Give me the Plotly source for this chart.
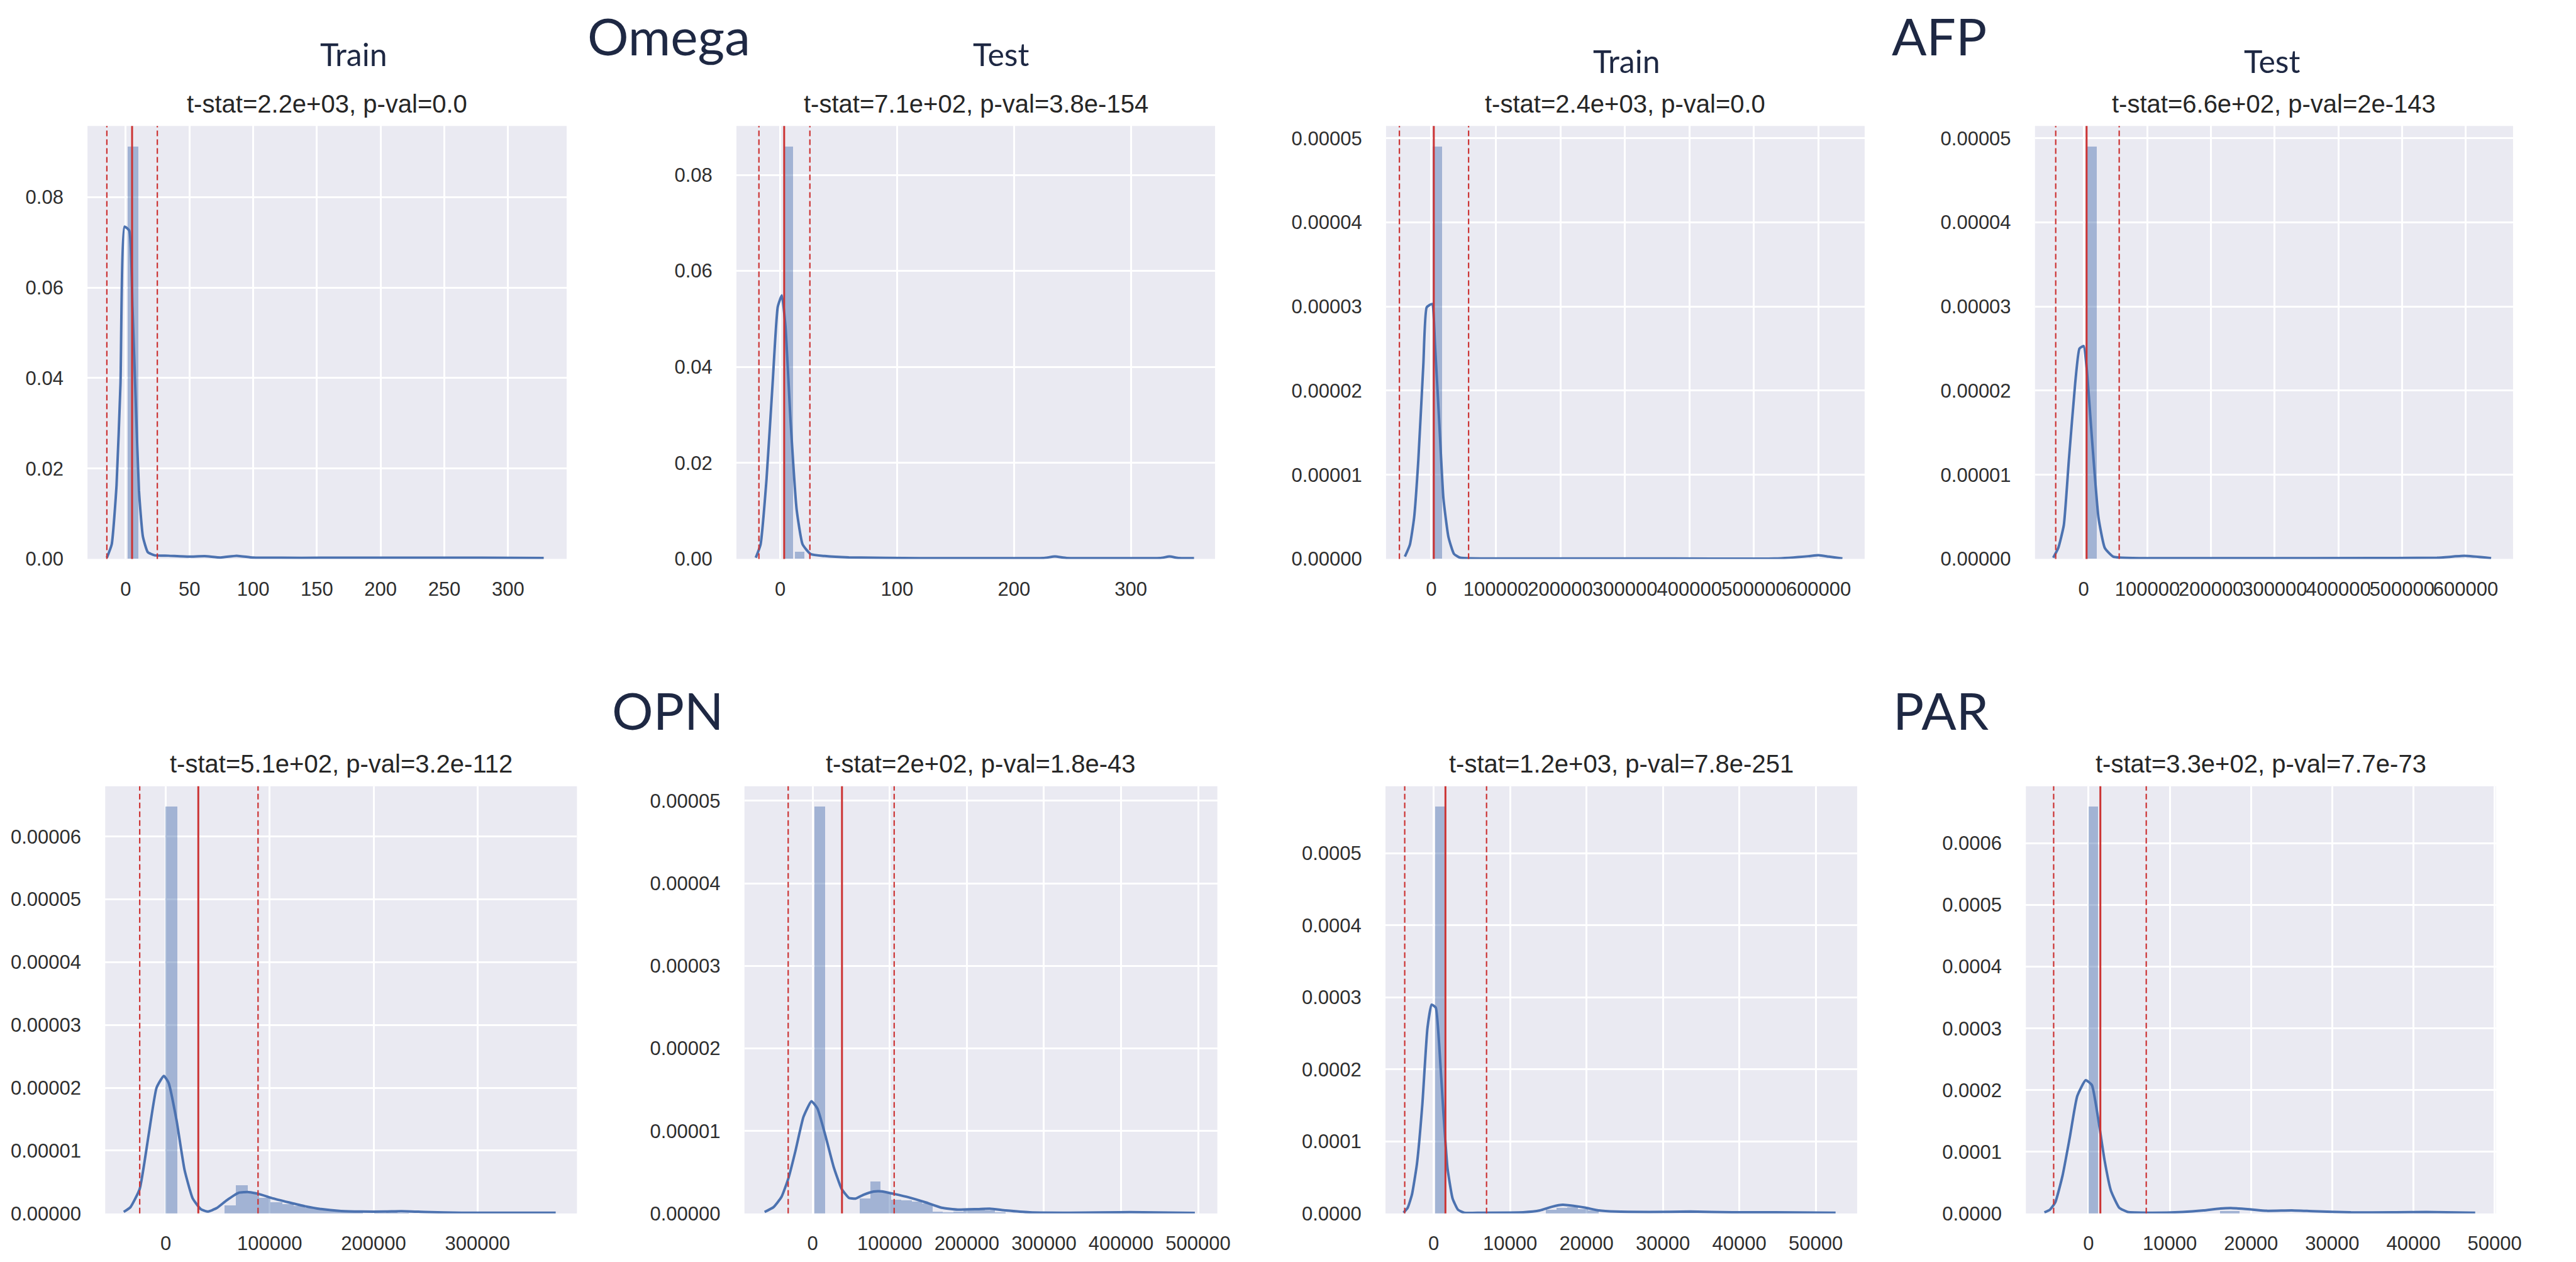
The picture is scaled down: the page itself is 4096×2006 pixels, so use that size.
import plotly.graph_objects as go

REF_W, REF_H = 4460, 2184
FIG_W, FIG_H = 4096, 2006
S = FIG_W / REF_W  # 0.918

# ======================= DATA =======================
panel_names = ["Omega train", "Omega test", "AFP train", "AFP test",
               "OPN train", "OPN test", "PAR train", "PAR test"]
subtitles = ["t-stat=2.2e+03, p-val=0.0", "t-stat=7.1e+02, p-val=3.8e-154",
             "t-stat=2.4e+03, p-val=0.0", "t-stat=6.6e+02, p-val=2e-143",
             "t-stat=5.1e+02, p-val=3.2e-112", "t-stat=2e+02, p-val=1.8e-43",
             "t-stat=1.2e+03, p-val=7.8e-251", "t-stat=3.3e+02, p-val=7.7e-73"]
marker_labels = ["Omega", "AFP", "OPN", "PAR"]
split_labels = ["Train", "Test", "Train", "Test"]

# --- Omega train ---
omega_train_bin_centers = [5.85]
omega_train_bin_heights = [0.0912]
omega_train_bin_width = 8.5
omega_train_kde_x = [-14.8, -11, -7.2, -4.1, -0.9, 2.8, 5.3, 7.9, 10.4, 13.5, 17.3, 22.6, 33.6,
                     49.4, 62, 74.5, 87, 100, 122, 153, 216, 279, 328]
omega_train_kde_y = [0.00025, 0.0032, 0.0163, 0.0388, 0.0735, 0.0726, 0.0557, 0.0345, 0.0151,
                     0.0049, 0.0015, 0.0008, 0.0007, 0.0005, 0.0006, 0.0003, 0.0007, 0.0003,
                     0.00025, 0.00025, 0.00025, 0.00025, 0.0002]
omega_train_mean = 5.0
omega_train_band = [-14.8, 24.8]
omega_train_xticks = [0, 50, 100, 150, 200, 250, 300]
omega_train_yticks = [0.0, 0.02, 0.04, 0.06, 0.08]

# --- Omega test ---
omega_test_bin_centers = [7.0, 16.7]
omega_test_bin_heights = [0.0859, 0.0014]
omega_test_bin_width = 7.8
omega_test_kde_x = [-20.9, -16.8, -11.7, -6.5, -2.1, 1.4, 4.5, 8.9, 14.1, 19.2, 26.1, 38.1, 58.7,
                    120, 189, 225, 235, 245, 292, 325, 333, 341, 354]
omega_test_kde_y = [0.00024, 0.003, 0.0166, 0.0365, 0.0525, 0.0549, 0.0485, 0.0286, 0.0102, 0.003,
                    0.001, 0.0006, 0.0003, 0.00016, 0.00016, 0.00018, 0.0005, 0.00018, 0.00016,
                    0.00018, 0.0005, 0.00018, 0.00016]
omega_test_mean = 3.4
omega_test_band = [-18.2, 25.4]
omega_test_xticks = [0, 100, 200, 300]
omega_test_yticks = [0.0, 0.02, 0.04, 0.06, 0.08]

# --- AFP train ---
afp_train_bin_centers = [9400]
afp_train_bin_heights = [4.9e-5]
afp_train_bin_width = 15000
afp_train_kde_x = [-40900, -33100, -26600, -20100, -12300, -7100, 1300, 5800, 12300, 18800, 26600,
                   35100, 44800, 142000, 337000, 532000, 584000, 600000, 616000, 637000]
afp_train_kde_y = [2.7e-7, 1.7e-6, 4.9e-6, 1.17e-5, 2.31e-5, 2.99e-5, 3.03e-5, 2.54e-5, 1.63e-5,
                   7.2e-6, 2.6e-6, 6e-7, 1.4e-7, 5e-8, 5e-8, 5e-8, 3.2e-7, 4.5e-7, 2.7e-7, 5e-8]
afp_train_mean = 3900
afp_train_band = [-49400, 57800]
afp_train_xticks = [0, 100000, 200000, 300000, 400000, 500000, 600000]
afp_train_yticks = [0.0, 0.00001, 0.00002, 0.00003, 0.00004, 0.00005]

# --- AFP test ---
afp_test_bin_centers = [12300]
afp_test_bin_heights = [4.9e-5]
afp_test_bin_width = 15300
afp_test_kde_x = [-47800, -39900, -31200, -23300, -13300, -6600, 0, 4700, 13300, 23300, 33200,
                  46500, 156000, 355000, 555000, 598000, 640000]
afp_test_kde_y = [1.4e-7, 1.3e-6, 4e-6, 1.17e-5, 2.09e-5, 2.5e-5, 2.53e-5, 2.27e-5, 1.4e-5, 4.9e-6,
                  1.3e-6, 2.7e-7, 9e-8, 9e-8, 1.4e-7, 3.6e-7, 9e-8]
afp_test_mean = 4600
afp_test_band = [-43900, 55800]
afp_test_xticks = [0, 100000, 200000, 300000, 400000, 500000, 600000]
afp_test_yticks = [0.0, 0.00001, 0.00002, 0.00003, 0.00004, 0.00005]

# --- OPN train ---
opn_train_bin_centers = [5600, 62210, 73310, 84410, 95510, 106610, 117710, 128810, 139910, 151010,
                         162110, 173210, 184310, 206510, 217610, 228710]
opn_train_bin_heights = [6.476e-5, 1.3e-6, 4.48e-6, 3.33e-6, 2.5e-6, 1.76e-6, 1.5e-6, 1.2e-6,
                         0.9e-6, 0.6e-6, 0.4e-6, 0.25e-6, 0.2e-6, 0.15e-6, 0.2e-6, 0.15e-6]
opn_train_bin_width = 11100
opn_train_kde_x = [-40500, -34000, -25100, -16600, -8900, -1900, 2700, 10400, 18100, 25900, 33600,
                   40500, 49000, 58700, 70300, 79900, 89600, 103100, 118500, 134000, 149400,
                   168700, 188000, 211200, 226600, 249800, 284600, 323000, 375300]
opn_train_kde_y = [2.4e-7, 1.0e-6, 3.9e-6, 1.24e-5, 2.0e-5, 2.19e-5, 2.08e-5, 1.48e-5, 6.9e-6,
                   2.4e-6, 7e-7, 3e-7, 8.5e-7, 2.1e-6, 3.3e-6, 3.4e-6, 3.1e-6, 2.4e-6, 1.76e-6,
                   1.15e-6, 7e-7, 3.9e-7, 3e-7, 3e-7, 3.6e-7, 2.4e-7, 1e-7, 1.2e-7, 1e-7]
opn_train_mean = 31300
opn_train_band = [-25100, 88800]
opn_train_xticks = [0, 100000, 200000, 300000]
opn_train_yticks = [0.0, 0.00001, 0.00002, 0.00003, 0.00004, 0.00005, 0.00006]

# --- OPN test ---
opn_test_bin_centers = [8800, 67550, 81050, 94550, 108050, 121550, 135050, 148550, 162050, 175550,
                        189050, 202550, 216050, 229550, 243050]
opn_test_bin_heights = [4.93e-5, 1.8e-6, 3.9e-6, 2.6e-6, 1.7e-6, 1.57e-6, 1.46e-6, 1.2e-6,
                        0.23e-6, 0.18e-6, 0.23e-6, 0.53e-6, 0.58e-6, 0.37e-6, 0.18e-6]
opn_test_bin_width = 13500
opn_test_kde_x = [-62400, -50900, -40500, -31200, -22300, -12000, -1600, 6200, 16600, 27000, 37400,
                  46800, 55600, 66000, 79000, 89400, 105000, 125800, 146600, 167400, 188100,
                  214100, 229700, 250500, 281700, 333700, 411600, 495800]
opn_test_kde_y = [1.8e-7, 7.6e-7, 2.0e-6, 4.35e-6, 7.6e-6, 1.17e-5, 1.36e-5, 1.27e-5, 9.4e-6,
                  5.7e-6, 3.0e-6, 1.9e-6, 1.8e-6, 2.27e-6, 2.66e-6, 2.68e-6, 2.38e-6, 1.92e-6,
                  1.34e-6, 6.9e-7, 4.6e-7, 5.3e-7, 5.8e-7, 3.7e-7, 1.4e-7, 9e-8, 1.6e-7, 7e-8]
opn_test_mean = 38000
opn_test_band = [-31800, 105700]
opn_test_xticks = [0, 100000, 200000, 300000, 400000, 500000]
opn_test_yticks = [0.0, 0.00001, 0.00002, 0.00003, 0.00004, 0.00005]

# --- PAR train ---
par_train_bin_centers = [850, 15400, 16780, 18160, 19540, 20920]
par_train_bin_heights = [5.65e-4, 5e-6, 8e-6, 9e-6, 6e-6, 4e-6]
par_train_bin_width = 1380
par_train_kde_x = [-3950, -3400, -2850, -2200, -1480, -820, -270, 270, 710, 1260, 1810, 2470, 3180,
                   4000, 6200, 11700, 13900, 15500, 16900, 18300, 19900, 21600, 23800, 28200,
                   33600, 39100, 44600, 52600]
par_train_kde_y = [1e-6, 7.9e-6, 2.6e-5, 6.8e-5, 1.52e-4, 2.57e-4, 2.9e-4, 2.86e-4, 2.36e-4,
                   1.42e-4, 6.3e-5, 2.1e-5, 5.2e-6, 1e-6, 1e-6, 1.6e-6, 4.2e-6, 9.4e-6, 1.2e-5,
                   1.05e-5, 7.9e-6, 4.2e-6, 2.6e-6, 2.1e-6, 2.6e-6, 1.6e-6, 1.6e-6, 1e-6]
par_train_mean = 1540
par_train_band = [-3790, 6920]
par_train_xticks = [0, 10000, 20000, 30000, 40000, 50000]
par_train_yticks = [0.0, 0.0001, 0.0002, 0.0003, 0.0004, 0.0005]

# --- PAR test ---
par_test_bin_centers = [600, 16800, 18000]
par_test_bin_heights = [6.595e-4, 4e-6, 4e-6]
par_test_bin_width = 1200
par_test_kde_x = [-5440, -4770, -4090, -3210, -2330, -1400, -360, 410, 1190, 1970, 2750, 3780, 4820,
                  7400, 11550, 14150, 16220, 17770, 19840, 21900, 25000, 27600, 32300, 37500,
                  41600, 47600]
par_test_kde_y = [1.8e-6, 6e-6, 1.84e-5, 6.1e-5, 1.22e-4, 1.9e-4, 2.16e-4, 2.08e-4, 1.53e-4, 8.6e-5,
                  3.7e-5, 9.2e-6, 2.4e-6, 1.2e-6, 2.4e-6, 4.9e-6, 8e-6, 8.6e-6, 6.7e-6, 4.3e-6,
                  4.9e-6, 3.7e-6, 1.8e-6, 1.8e-6, 2.4e-6, 1.2e-6]
par_test_mean = 1450
par_test_band = [-4300, 7100]
par_test_xticks = [0, 10000, 20000, 30000, 40000, 50000]
par_test_yticks = [0.0, 0.0001, 0.0002, 0.0003, 0.0004, 0.0005, 0.0006]

# ======================= LAYOUT (reference pixel boxes) =======================
boxes = [  # x0, y0, x1, y1 in reference px
    (153, 220, 991, 976), (1288, 220, 2125, 976), (2424, 220, 3261, 976), (3559, 220, 4395, 976),
    (184, 1373, 1009, 2119), (1302, 1373, 2129, 2119), (2423, 1373, 3248, 2119), (3543, 1373, 4365, 2119),
]
x_ranges = [(-30, 346), (-37.4, 372), (-70100, 671400), (-76400, 674400),
            (-58300, 395750), (-88500, 525000), (-6310, 55430), (-7720, 50150)]
y_decimals = [2, 2, 5, 5, 5, 5, 4, 4]
subtitle_y = [181, 181, 181, 181, 1334, 1334, 1334, 1334]
split_pos = [(619, 94), (1751, 94), (2845, 107), (3973, 107)]
marker_pos = [(1170, 62), (3392, 62), (1168, 1239), (3394, 1239)]

panels = [
    (omega_train_bin_centers, omega_train_bin_heights, omega_train_bin_width, omega_train_kde_x,
     omega_train_kde_y, omega_train_mean, omega_train_band, omega_train_xticks, omega_train_yticks),
    (omega_test_bin_centers, omega_test_bin_heights, omega_test_bin_width, omega_test_kde_x,
     omega_test_kde_y, omega_test_mean, omega_test_band, omega_test_xticks, omega_test_yticks),
    (afp_train_bin_centers, afp_train_bin_heights, afp_train_bin_width, afp_train_kde_x,
     afp_train_kde_y, afp_train_mean, afp_train_band, afp_train_xticks, afp_train_yticks),
    (afp_test_bin_centers, afp_test_bin_heights, afp_test_bin_width, afp_test_kde_x,
     afp_test_kde_y, afp_test_mean, afp_test_band, afp_test_xticks, afp_test_yticks),
    (opn_train_bin_centers, opn_train_bin_heights, opn_train_bin_width, opn_train_kde_x,
     opn_train_kde_y, opn_train_mean, opn_train_band, opn_train_xticks, opn_train_yticks),
    (opn_test_bin_centers, opn_test_bin_heights, opn_test_bin_width, opn_test_kde_x,
     opn_test_kde_y, opn_test_mean, opn_test_band, opn_test_xticks, opn_test_yticks),
    (par_train_bin_centers, par_train_bin_heights, par_train_bin_width, par_train_kde_x,
     par_train_kde_y, par_train_mean, par_train_band, par_train_xticks, par_train_yticks),
    (par_test_bin_centers, par_test_bin_heights, par_test_bin_width, par_test_kde_x,
     par_test_kde_y, par_test_mean, par_test_band, par_test_xticks, par_test_yticks),
]

BG = "#EAEAF2"
BLUE = "#4C72B0"
BAR = "rgba(76,114,176,0.45)"
RED = "#CC3333"
TXT = "#262626"
NAVY = "#1E2843"
TICK_FONT = dict(family="Liberation Sans, Arial, sans-serif", size=31, color="#2E2E2E")

fig = go.Figure()
layout_axes = {}
shapes = []
annotations = []

for i, (bx, by, bw, kx, ky, mean, band, xt, yt) in enumerate(panels):
    n = i + 1
    xa = "x" if n == 1 else f"x{n}"
    ya = "y" if n == 1 else f"y{n}"
    x0, y0, x1, y1 = boxes[i]
    fig.add_trace(go.Bar(x=bx, y=by, width=[bw] * len(bx), xaxis=xa, yaxis=ya,
                         marker=dict(color=BAR, line=dict(width=0)), showlegend=False,
                         hoverinfo="skip"))
    fig.add_trace(go.Scatter(x=kx, y=ky, mode="lines", xaxis=xa, yaxis=ya, showlegend=False,
                             line=dict(color=BLUE, width=4, shape="spline", smoothing=0.45),
                             hoverinfo="skip"))
    ytop = max(by) * 1.05
    dec = y_decimals[i]
    layout_axes["xaxis" if n == 1 else f"xaxis{n}"] = dict(
        domain=[x0 / REF_W, x1 / REF_W], anchor=ya, range=list(x_ranges[i]),
        tickmode="array", tickvals=xt, ticktext=[str(int(v)) for v in xt], tickangle=0,
        showgrid=True, gridcolor="white", gridwidth=2.8, zeroline=False, showline=False,
        ticks="outside", ticklen=20, tickcolor="rgba(0,0,0,0)", tickfont=TICK_FONT,
        fixedrange=True)
    layout_axes["yaxis" if n == 1 else f"yaxis{n}"] = dict(
        domain=[1 - y1 / REF_H, 1 - y0 / REF_H], anchor=xa, range=[0, ytop],
        tickmode="array", tickvals=yt, ticktext=[f"{v:.{dec}f}" for v in yt],
        showgrid=True, gridcolor="white", gridwidth=2.8, zeroline=False, showline=False,
        ticks="outside", ticklen=31, tickcolor="rgba(0,0,0,0)", tickfont=TICK_FONT,
        fixedrange=True)
    yref_dom = "y domain" if n == 1 else f"y{n} domain"
    shapes.append(dict(type="line", xref=xa, yref=yref_dom, x0=mean, x1=mean, y0=0, y1=1,
                       line=dict(color=RED, width=3), layer="above"))
    for v in band:
        shapes.append(dict(type="line", xref=xa, yref=yref_dom, x0=v, x1=v, y0=0, y1=1,
                           line=dict(color=RED, width=2.2, dash="9px,5px"), layer="above"))
    annotations.append(dict(text=subtitles[i], xref="paper", yref="paper",
                            x=(x0 + x1) / 2 / REF_W, y=1 - subtitle_y[i] / REF_H,
                            xanchor="center", yanchor="middle", showarrow=False,
                            font=dict(family="Liberation Sans, Arial, sans-serif", size=40,
                                      color=TXT)))

for lbl, (cx, cy) in zip(split_labels, split_pos):
    annotations.append(dict(text=lbl, xref="paper", yref="paper", x=cx / REF_W, y=1 - cy / REF_H,
                            xanchor="center", yanchor="middle", showarrow=False,
                            font=dict(family="Lato, Open Sans, sans-serif", size=50, color=NAVY)))
for lbl, (cx, cy) in zip(marker_labels, marker_pos):
    annotations.append(dict(text=lbl, xref="paper", yref="paper", x=cx / REF_W, y=1 - cy / REF_H,
                            xanchor="center", yanchor="middle", showarrow=False,
                            font=dict(family="Lato, Open Sans, sans-serif", size=82, color=NAVY)))

fig.update_layout(width=FIG_W, height=FIG_H, autosize=False,
                  margin=dict(l=0, r=0, t=0, b=0, pad=0),
                  paper_bgcolor="white", plot_bgcolor=BG, bargap=0,
                  shapes=shapes, annotations=annotations, showlegend=False, **layout_axes)

fig.write_html("out.html")
